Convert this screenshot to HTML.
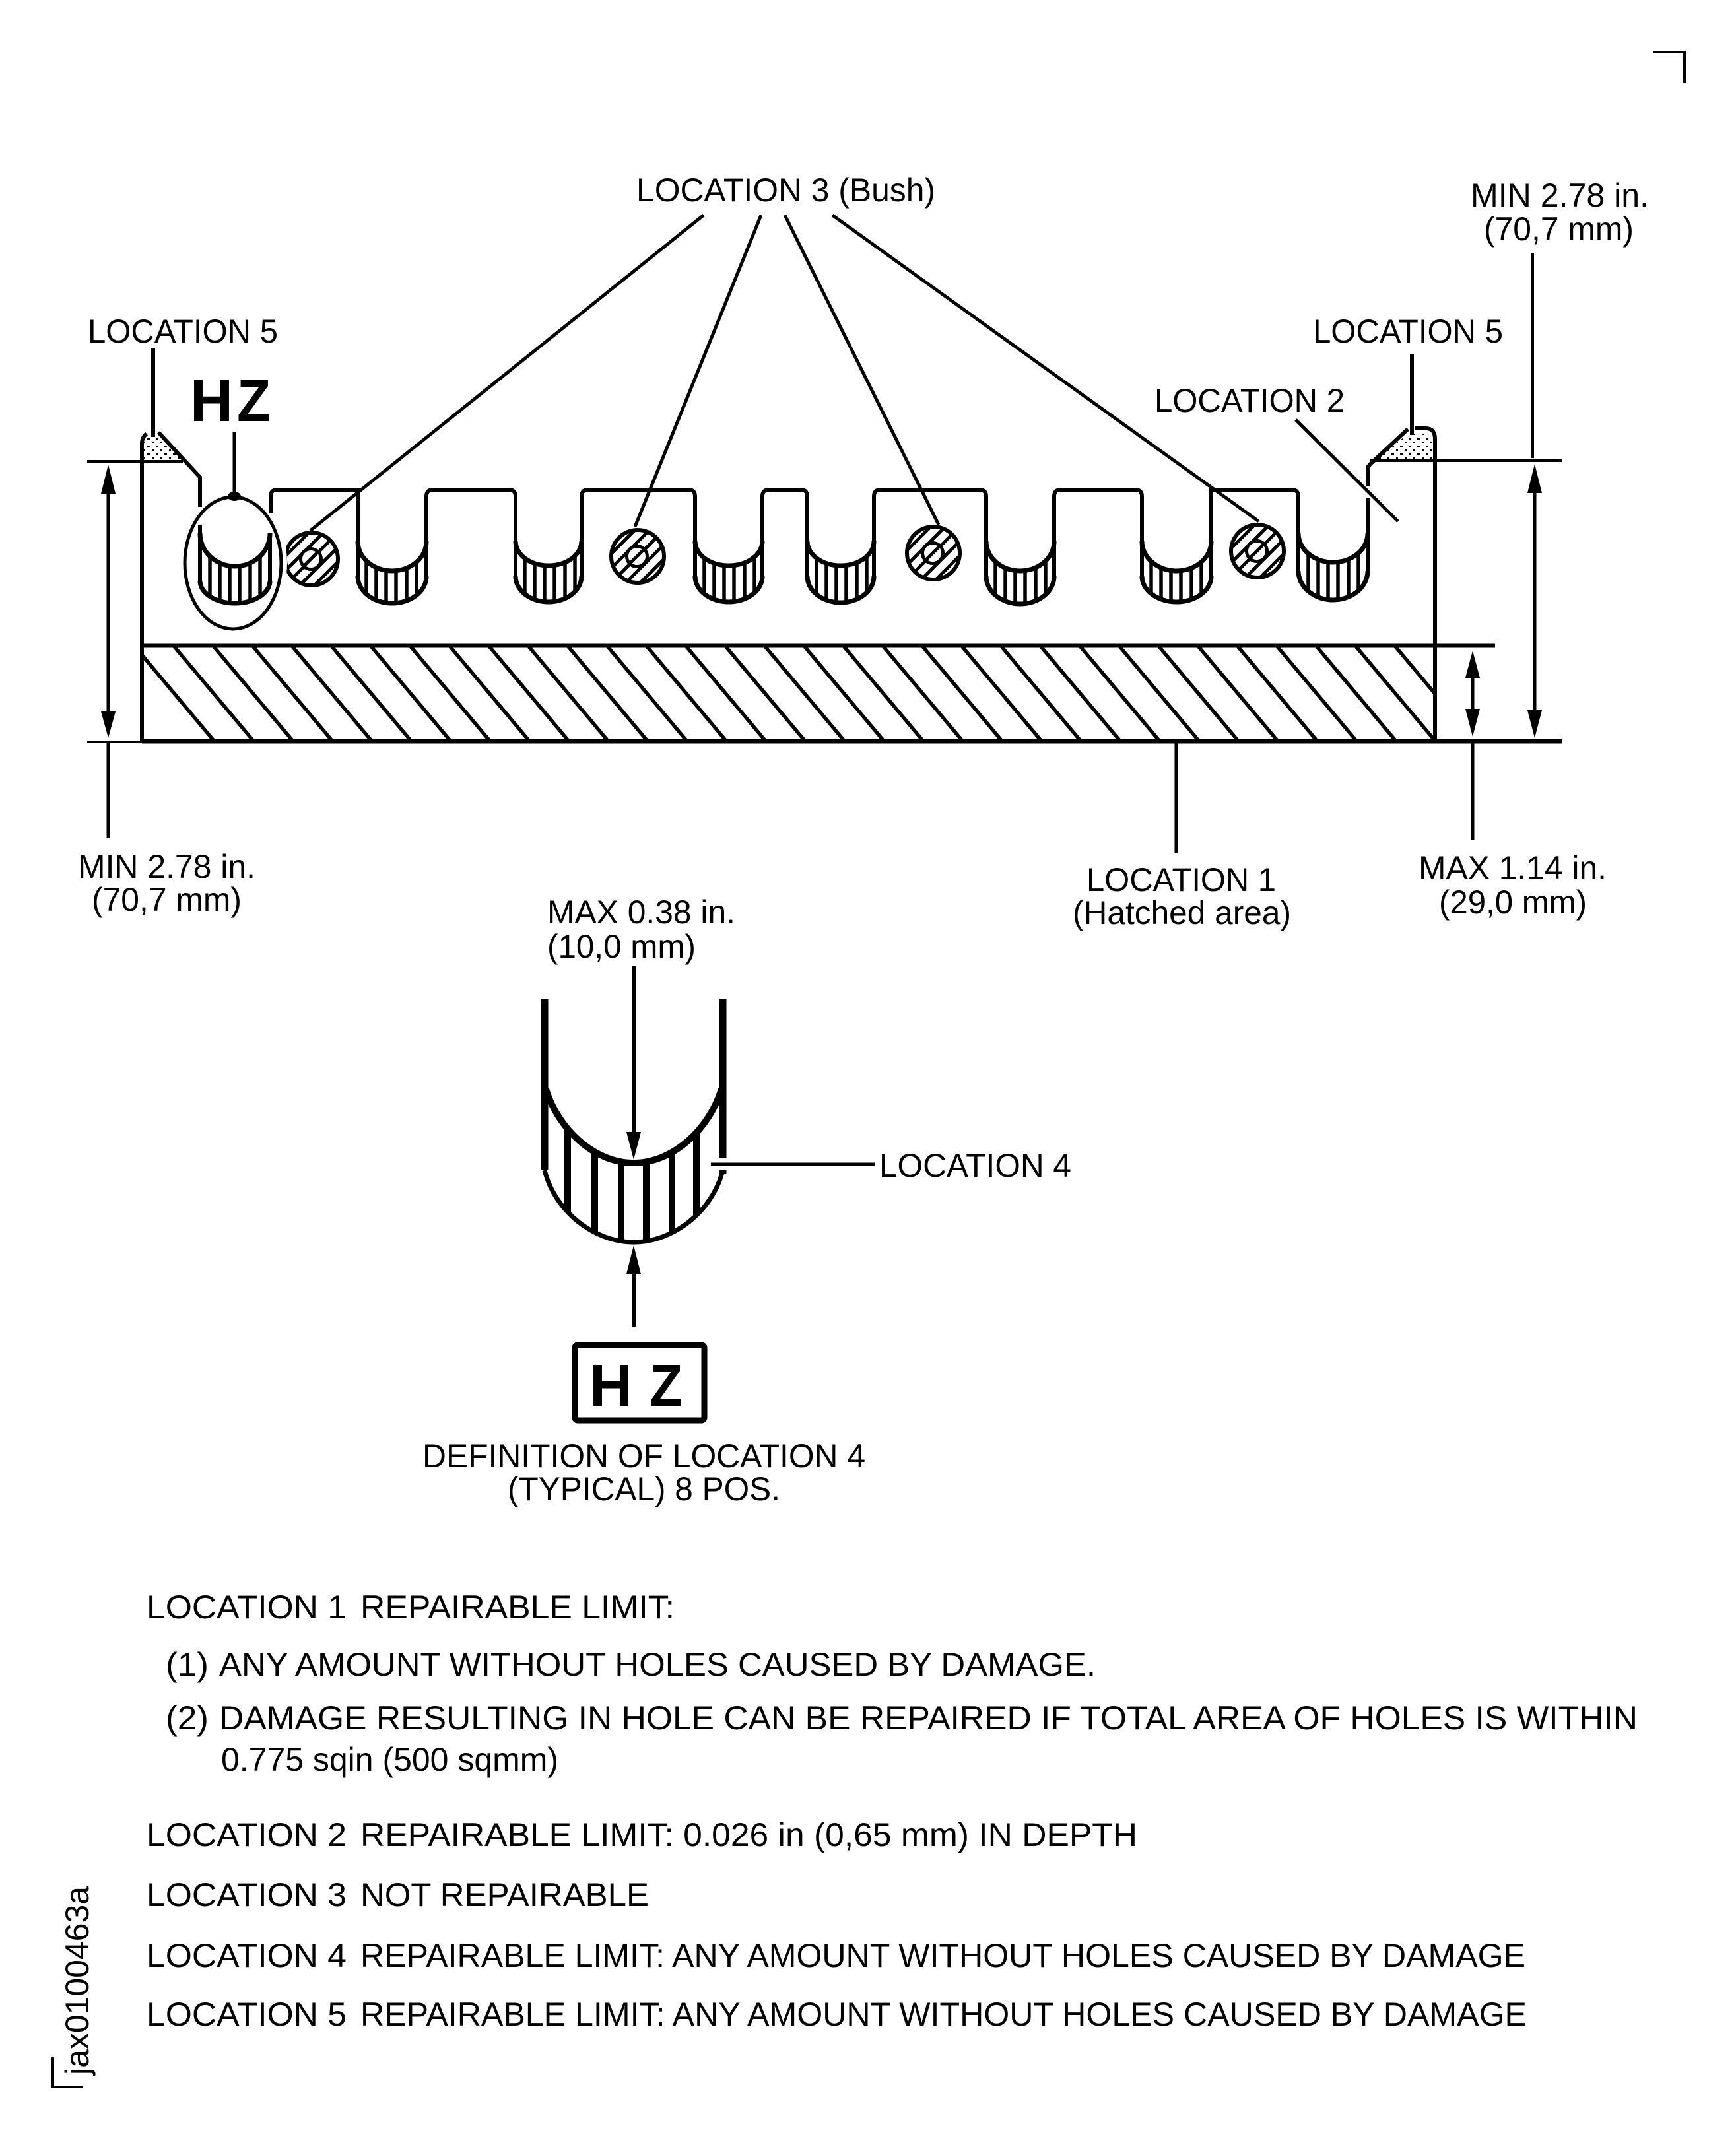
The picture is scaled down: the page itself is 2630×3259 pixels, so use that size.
<!DOCTYPE html>
<html><head><meta charset="utf-8"><style>
html,body{margin:0;padding:0;background:#fff}
svg{display:block}
text{font-family:"Liberation Sans",sans-serif;font-size:50px;fill:#000}
.b{font-weight:bold;font-size:90px}
</style></head><body>
<svg xmlns="http://www.w3.org/2000/svg" width="2630" height="3259" viewBox="0 0 2630 3259">
<defs>
<pattern id="dots" width="13" height="12" patternUnits="userSpaceOnUse"><rect x="2" y="3" width="4" height="3"/><rect x="9" y="9" width="3" height="2"/></pattern>
<clipPath id="hc"><rect x="218" y="978" width="1953" height="145"/></clipPath>
<clipPath id="u1"><path d="M303,808A53,50 0 0 0 409,808V880A53,34 0 0 1 303,880Z"/></clipPath>
<clipPath id="u2"><path d="M542,820A52,45 0 0 0 646,820V873A52,41 0 0 1 542,873Z"/></clipPath>
<clipPath id="u3"><path d="M781,820A50,37 0 0 0 881,820V873A50,39 0 0 1 781,873Z"/></clipPath>
<clipPath id="u4"><path d="M1053,820A51,37 0 0 0 1155,820V873A51,39 0 0 1 1053,873Z"/></clipPath>
<clipPath id="u5"><path d="M1223,820A50.500,37 0 0 0 1324,820V873A50.500,40 0 0 1 1223,873Z"/></clipPath>
<clipPath id="u6"><path d="M1494,820A51.500,45 0 0 0 1597,820V873A51.500,42 0 0 1 1494,873Z"/></clipPath>
<clipPath id="u7"><path d="M1730,820A52.500,45 0 0 0 1835,820V873A52.500,39 0 0 1 1730,873Z"/></clipPath>
<clipPath id="u8"><path d="M1967,808A52.500,44 0 0 0 2072,808V865A52.500,44 0 0 1 1967,865Z"/></clipPath>
<clipPath id="bc"><circle r="40"/></clipPath>
<clipPath id="dc"><path d="M827,1650C845,1710 900,1762 960,1762C1020,1762 1075,1710 1093,1650V1773C1080,1835 1020,1882 960,1882C900,1882 840,1835 825,1773Z"/></clipPath>
<g id="st"><path d="M15,0V130M30,0V130M45,0V130M60,0V130M76,0V130M91,0V130" stroke="#000" stroke-width="5.500"/></g>
<g id="bush"><g clip-path="url(#bc)" stroke="#000" stroke-width="5"><path d="M-66,0L0,-66M-66,22L22,-66M-66,44L44,-66M-66,66L66,-66M-44,66L66,-44M-22,66L66,-22M0,66L66,0M-66,-22L-22,-66"/></g><circle r="40" fill="none" stroke="#000" stroke-width="6"/><circle cx="-1" r="15.500" fill="#fff" stroke="#000" stroke-width="5"/><path d="M-12,11L11,-12" stroke="#000" stroke-width="5"/></g>
</defs>
<rect width="2630" height="3259" fill="#fff"/>

<!-- corner marks -->
<path d="M2504,79H2552V125" fill="none" stroke="#000" stroke-width="4"/>
<path d="M80,3117V3162H126" fill="none" stroke="#000" stroke-width="4"/>

<!-- hatch -->
<path clip-path="url(#hc)" fill="none" stroke="#000" stroke-width="5.500" d="M200.400 975l126 150M260 975l126 150M319.800 975l126 150M379.500 975l126 150M439.100 975l126 150M498.800 975l126 150M558.500 975l126 150M618.200 975l126 150M677.900 975l126 150M737.500 975l126 150M797.200 975l126 150M856.900 975l126 150M916.600 975l126 150M976.200 975l126 150M1035.900 975l126 150M1095.600 975l126 150M1155.300 975l126 150M1215 975l126 150M1274.600 975l126 150M1334.300 975l126 150M1394 975l126 150M1453.700 975l126 150M1513.300 975l126 150M1573 975l126 150M1632.700 975l126 150M1692.400 975l126 150M1752 975l126 150M1811.700 975l126 150M1871.400 975l126 150M1931.100 975l126 150M1990.800 975l126 150M2050.400 975l126 150M2110.100 975l126 150"/>

<!-- stipple -->
<path d="M218,696V668L228,660L240,660L275,696Z" fill="url(#dots)"/>
<path d="M2085,696L2136,655H2165L2170,665V696Z" fill="url(#dots)"/>

<!-- bush 1 and detail ellipse -->
<use href="#bush" x="472" y="847"/>
<ellipse cx="353" cy="853" rx="73" ry="100" fill="none" stroke="#fff" stroke-width="18"/>

<!-- outline -->
<g fill="none" stroke="#000" stroke-width="6">
<path d="M240,655L303,723V768"/>
<path d="M222,657Q215,663 215,672V1123"/>
<path d="M303,795V880M409,808V880"/>
<path d="M410,777V752Q410,742 420,742H542V873"/>
<path d="M646,873V752Q646,742 656,742H771Q781,742 781,752V873"/>
<path d="M881,873V752Q881,742 891,742H1043Q1053,742 1053,752V873"/>
<path d="M1155,873V752Q1155,742 1165,742H1213Q1223,742 1223,752V873"/>
<path d="M1324,873V752Q1324,742 1334,742H1484Q1494,742 1494,752V873"/>
<path d="M1597,873V752Q1597,742 1607,742H1720Q1730,742 1730,752V873"/>
<path d="M1835,873V742H1957Q1967,742 1967,752V865"/>
<path d="M2072,865V755M2072,736V708L2076,703L2133,650"/>
<path d="M2144,649H2160Q2174,649 2174,665V1123"/>
<path d="M215,978H2265" stroke-width="7"/>
<path d="M215,1123H2366" stroke-width="7"/>
</g>

<!-- notch stripes -->
<g clip-path="url(#u1)"><use href="#st" x="303" y="790"/></g>
<g clip-path="url(#u2)"><use href="#st" x="540" y="790"/></g>
<g clip-path="url(#u3)"><use href="#st" x="780" y="790"/></g>
<g clip-path="url(#u4)"><use href="#st" x="1052" y="790"/></g>
<g clip-path="url(#u5)"><use href="#st" x="1222" y="790"/></g>
<g clip-path="url(#u6)"><use href="#st" x="1493" y="790"/></g>
<g clip-path="url(#u7)"><use href="#st" x="1729" y="790"/></g>
<g clip-path="url(#u8)"><use href="#st" x="1967" y="790"/></g>
<!-- notch arcs -->
<g fill="none" stroke="#000" stroke-width="7">
<path d="M303,808A53,50 0 0 0 409,808M303,880A53,34 0 0 0 409,880"/>
<path d="M542,820A52,45 0 0 0 646,820M542,873A52,41 0 0 0 646,873"/>
<path d="M781,820A50,37 0 0 0 881,820M781,873A50,39 0 0 0 881,873"/>
<path d="M1053,820A51,37 0 0 0 1155,820M1053,873A51,39 0 0 0 1155,873"/>
<path d="M1223,820A50.500,37 0 0 0 1324,820M1223,873A50.500,40 0 0 0 1324,873"/>
<path d="M1494,820A51.500,45 0 0 0 1597,820M1494,873A51.500,42 0 0 0 1597,873"/>
<path d="M1730,820A52.500,45 0 0 0 1835,820M1730,873A52.500,39 0 0 0 1835,873"/>
<path d="M1967,808A52.500,44 0 0 0 2072,808M1967,865A52.500,44 0 0 0 2072,865"/>
</g>

<!-- bushes -->
<use href="#bush" x="966" y="843"/>
<use href="#bush" x="1414" y="838"/>
<use href="#bush" x="1905" y="835"/>

<!-- leaders -->
<g fill="none" stroke="#000" stroke-width="5">
<path d="M1066,326L470,804M1153,326L962,798M1189,326L1422,795M1261,326L1907,790"/>
<path d="M1963,636L2118,790"/>
<path d="M232,527V662M2139,536V659" stroke-width="6"/>
<path d="M355,655V752"/>
<ellipse cx="353" cy="853" rx="73" ry="100"/>
<path d="M132,699H277M2075,698H2366M2322,384V694M132,1124H215" stroke-width="4"/>
<path d="M164,720V1100M164,1123V1270M2325,720V1100M2231,1010V1100M2231,1123V1272M1782,1123V1293"/>
</g>
<ellipse cx="355" cy="752" rx="10" ry="7"/>
<polygon points="164,704 153,748 175,748"/><polygon points="164,1118 153,1078 175,1078"/>
<polygon points="2325,703 2314,747 2336,747"/><polygon points="2325,1118 2314,1076 2336,1076"/>
<polygon points="2231,986 2220,1027 2242,1027"/><polygon points="2231,1116 2220,1074 2242,1074"/>

<!-- detail -->
<g clip-path="url(#dc)" stroke="#000" stroke-width="10"><path d="M860,1640V1900M901,1640V1900M941,1640V1900M979,1640V1900M1018,1640V1900M1055,1640V1900"/></g>
<g fill="none" stroke="#000">
<path d="M825,1513V1773M1095,1513V1755M1095,1773V1779" stroke-width="11"/>
<path d="M827,1650C845,1710 900,1762 960,1762C1020,1762 1075,1710 1093,1650" stroke-width="10"/>
<path d="M825,1773C840,1835 900,1882 960,1882C1020,1882 1080,1835 1095,1773" stroke-width="7"/>
<path d="M960,1464V1720M960,1925V2010" stroke-width="6"/>
<path d="M1077,1764H1325" stroke-width="5"/>
<rect x="871" y="2038" width="196" height="114" rx="4" stroke-width="9"/>
</g>
<polygon points="960,1757 949,1715 971,1715"/><polygon points="960,1887 949,1930 971,1930"/>

<!-- labels -->
<text x="133" y="519" textLength="288" lengthAdjust="spacingAndGlyphs">LOCATION 5</text>
<text x="1989" y="519" textLength="288" lengthAdjust="spacingAndGlyphs">LOCATION 5</text>
<text x="1749" y="624" textLength="288" lengthAdjust="spacingAndGlyphs">LOCATION 2</text>
<text x="964" y="305" textLength="453" lengthAdjust="spacingAndGlyphs">LOCATION 3 (Bush)</text>
<text x="2228" y="313" textLength="270" lengthAdjust="spacingAndGlyphs">MIN 2.78 in.</text>
<text x="2248" y="364" textLength="227" lengthAdjust="spacingAndGlyphs">(70,7 mm)</text>
<text x="118" y="1330" textLength="269" lengthAdjust="spacingAndGlyphs">MIN 2.78 in.</text>
<text x="139" y="1380" textLength="227" lengthAdjust="spacingAndGlyphs">(70,7 mm)</text>
<text x="1646" y="1350" textLength="287" lengthAdjust="spacingAndGlyphs">LOCATION 1</text>
<text x="1625" y="1400" textLength="331" lengthAdjust="spacingAndGlyphs">(Hatched area)</text>
<text x="2149" y="1332" textLength="285" lengthAdjust="spacingAndGlyphs">MAX 1.14 in.</text>
<text x="2180" y="1384" textLength="224" lengthAdjust="spacingAndGlyphs">(29,0 mm)</text>
<text x="829" y="1399" textLength="285" lengthAdjust="spacingAndGlyphs">MAX 0.38 in.</text>
<text x="829" y="1451" textLength="225" lengthAdjust="spacingAndGlyphs">(10,0 mm)</text>
<text x="1332" y="1783" textLength="291" lengthAdjust="spacingAndGlyphs">LOCATION 4</text>
<text x="640" y="2223" textLength="671" lengthAdjust="spacingAndGlyphs">DEFINITION OF LOCATION 4</text>
<text x="769" y="2273" textLength="413" lengthAdjust="spacingAndGlyphs">(TYPICAL) 8 POS.</text>
<text class="b" x="288" y="638" textLength="65" lengthAdjust="spacingAndGlyphs">H</text>
<text class="b" x="359" y="638" textLength="51" lengthAdjust="spacingAndGlyphs">Z</text>
<text class="b" x="893" y="2130" textLength="65" lengthAdjust="spacingAndGlyphs">H</text>
<text class="b" x="984" y="2130" textLength="50" lengthAdjust="spacingAndGlyphs">Z</text>

<text x="222" y="2452" textLength="303" lengthAdjust="spacingAndGlyphs">LOCATION 1</text>
<text x="546" y="2452" textLength="476" lengthAdjust="spacingAndGlyphs">REPAIRABLE LIMIT:</text>
<text x="251" y="2539" textLength="65" lengthAdjust="spacingAndGlyphs">(1)</text>
<text x="332" y="2539" textLength="1328" lengthAdjust="spacingAndGlyphs">ANY AMOUNT WITHOUT HOLES CAUSED BY DAMAGE.</text>
<text x="251" y="2620" textLength="65" lengthAdjust="spacingAndGlyphs">(2)</text>
<text x="332" y="2620" textLength="2149" lengthAdjust="spacingAndGlyphs">DAMAGE RESULTING IN HOLE CAN BE REPAIRED IF TOTAL AREA OF HOLES IS WITHIN</text>
<text x="335" y="2683" textLength="511" lengthAdjust="spacingAndGlyphs">0.775 sqin (500 sqmm)</text>
<text x="222" y="2797" textLength="303" lengthAdjust="spacingAndGlyphs">LOCATION 2</text>
<text x="546" y="2797" textLength="1177" lengthAdjust="spacingAndGlyphs">REPAIRABLE LIMIT: 0.026 in (0,65 mm) IN DEPTH</text>
<text x="222" y="2888" textLength="303" lengthAdjust="spacingAndGlyphs">LOCATION 3</text>
<text x="546" y="2888" textLength="437" lengthAdjust="spacingAndGlyphs">NOT REPAIRABLE</text>
<text x="222" y="2980" textLength="303" lengthAdjust="spacingAndGlyphs">LOCATION 4</text>
<text x="546" y="2980" textLength="1765" lengthAdjust="spacingAndGlyphs">REPAIRABLE LIMIT: ANY AMOUNT WITHOUT HOLES CAUSED BY DAMAGE</text>
<text x="222" y="3069" textLength="303" lengthAdjust="spacingAndGlyphs">LOCATION 5</text>
<text x="546" y="3069" textLength="1767" lengthAdjust="spacingAndGlyphs">REPAIRABLE LIMIT: ANY AMOUNT WITHOUT HOLES CAUSED BY DAMAGE</text>
<text transform="translate(134,3144) rotate(-90)" textLength="286" lengthAdjust="spacingAndGlyphs">jax0100463a</text>
</svg>
</body></html>
